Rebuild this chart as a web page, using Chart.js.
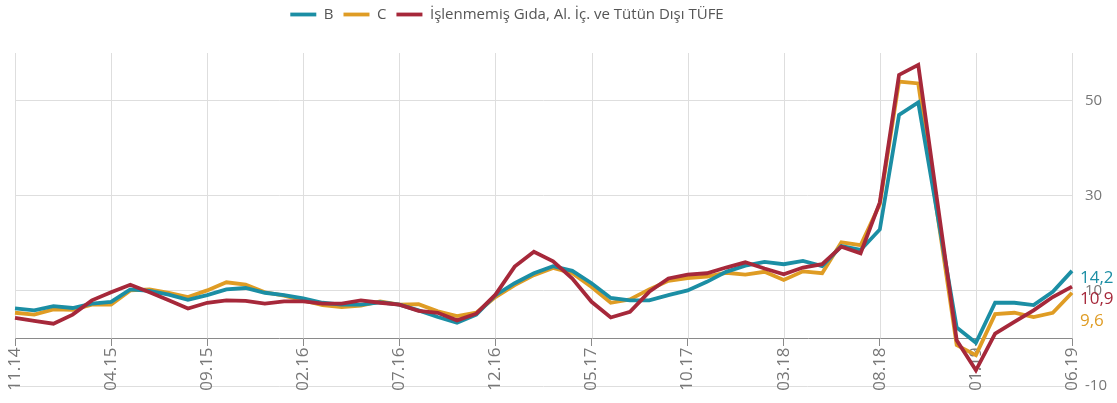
<!DOCTYPE html>
<html>
<head>
<meta charset="utf-8">
<script src="https://cdn.jsdelivr.net/npm/chart.js@4/dist/chart.umd.min.js"></script>
<style>
html, body { margin: 0; padding: 0; background: #fff; }
#wrap { width: 1117px; height: 403px; position: relative; }
</style>
</head>
<body>
<div id="wrap"><canvas id="chart"></canvas></div>
<script>
// aylar 11.14 - 06.19
const months = [
    '11.14', '12.14',
    '01.15', '02.15', '03.15', '04.15', '05.15', '06.15', '07.15', '08.15', '09.15', '10.15', '11.15', '12.15',
    '01.16', '02.16', '03.16', '04.16', '05.16', '06.16', '07.16', '08.16', '09.16', '10.16', '11.16', '12.16',
    '01.17', '02.17', '03.17', '04.17', '05.17', '06.17', '07.17', '08.17', '09.17', '10.17', '11.17', '12.17',
    '01.18', '02.18', '03.18', '04.18', '05.18', '06.18', '07.18', '08.18', '09.18', '10.18', '11.18', '12.18',
    '01.19', '02.19', '03.19', '04.19', '05.19', '06.19'
];

const seriesB = [
    6.3, 5.9, 6.8, 6.4, 7.3, 7.7, 10.3, 10.0, 9.2, 8.1,
    9.1, 10.3, 10.6, 9.6, 9.1, 8.4, 7.5, 7.1, 7.1, 7.6,
    7.1, 5.9, 4.5, 3.3, 5.0, 9.1, 11.6, 13.7, 15.2, 14.2,
    11.6, 8.5, 8.0, 8.0, 9.1, 10.1, 11.9, 14.0, 15.3, 16.1,
    15.6, 16.3, 15.2, 19.4, 18.6, 22.9, 47.0, 49.6, 26.0, 2.3,
    -0.9, 7.5, 7.5, 7.0, 9.8, 14.2
];

const seriesC = [
    5.4, 5.0, 6.1, 6.0, 7.1, 7.1, 10.1, 10.3, 9.6, 8.7,
    10.1, 11.8, 11.3, 9.7, 9.0, 8.0, 7.0, 6.6, 6.9, 7.8,
    7.1, 7.2, 5.7, 4.7, 5.4, 8.7, 11.2, 13.3, 14.8, 13.7,
    10.8, 7.5, 8.2, 10.3, 12.1, 12.7, 13.0, 13.8, 13.4, 14.0,
    12.3, 14.1, 13.7, 20.2, 19.6, 28.2, 54.0, 53.6, 26.0, -1.4,
    -3.5, 5.1, 5.4, 4.5, 5.4, 9.6
];

const seriesTufe = [
    4.3, 3.7, 3.1, 5.0, 8.0, 9.7, 11.3, 9.7, 8.0, 6.3,
    7.5, 8.0, 7.9, 7.3, 7.8, 7.8, 7.3, 7.3, 8.0, 7.5,
    7.1, 5.8, 5.4, 3.8, 5.2, 9.2, 15.1, 18.2, 16.2, 12.6,
    7.7, 4.4, 5.6, 9.8, 12.6, 13.4, 13.7, 14.9, 16.0, 14.7,
    13.5, 14.9, 15.6, 19.3, 17.9, 28.6, 55.4, 57.5, 28.5, -0.4,
    -6.7, 1.0, 3.5, 5.9, 8.7, 10.9
];

const seriesNames = ['B', 'C', 'İşlenmemiş Gıda, Al. İç. ve Tütün Dışı TÜFE'];
const colors = ['#1b8ea4', '#df9c24', '#a6283a'];
const yTicks = [-10, 10, 30, 50];

const fontFamily = '"Open Sans", "DejaVu Sans", sans-serif';

// dikey grid sadece 0 cizgisine kadar
const xGridPlugin = {
    id: 'xGrid',
    beforeDatasetsDraw(chart) {
        const { ctx, chartArea, scales } = chart;
        const y0 = scales.y.getPixelForValue(0);
        ctx.save();
        ctx.strokeStyle = '#dedede';
        ctx.lineWidth = 1;
        months.forEach((m, i) => {
            if (i % 5 !== 0) return;
            const x = Math.round(scales.x.getPixelForValue(i)) + 0.5;
            ctx.beginPath();
            ctx.moveTo(x, chartArea.top);
            ctx.lineTo(x, y0);
            ctx.stroke();
        });
        ctx.restore();
    }
};

// son deger etiketleri
const endLabelPlugin = {
    id: 'endLabels',
    afterDatasetsDraw(chart) {
        const { ctx, chartArea } = chart;
        const items = chart.data.datasets.map((ds, i) => {
            const meta = chart.getDatasetMeta(i);
            const pt = meta.data[meta.data.length - 1];
            const val = ds.data[ds.data.length - 1];
            return { y: pt.y + 7, text: val.toFixed(1).replace('.', ','), color: ds.borderColor };
        }).sort((a, b) => a.y - b.y);

        let prev = -1000;
        ctx.save();
        ctx.font = '17px ' + fontFamily;
        ctx.textBaseline = 'middle';
        ctx.textAlign = 'left';
        items.forEach(it => {
            const y = Math.max(it.y, prev + 21.5);
            prev = y;
            ctx.fillStyle = it.color;
            ctx.fillText(it.text, chartArea.right + 8, y);
        });
        ctx.restore();
    }
};

// legend biraz sola ve yukari
const legendShiftPlugin = {
    id: 'legendShift',
    afterLayout(chart) {
        const lg = chart.legend;
        if (!lg) return;
        lg.left -= 59;
        lg.right -= 59;
        lg.top -= 21;
        lg.bottom -= 21;
    }
};

new Chart(document.getElementById('chart'), {
    type: 'line',
    data: {
        labels: months,
        datasets: [
            { label: seriesNames[0], data: seriesB, borderColor: colors[0], backgroundColor: colors[0], borderWidth: 3.8, order: 1 },
            { label: seriesNames[1], data: seriesC, borderColor: colors[1], backgroundColor: colors[1], borderWidth: 3.8, order: 2 },
            { label: seriesNames[2], data: seriesTufe, borderColor: colors[2], backgroundColor: colors[2], borderWidth: 3.8, order: 0 }
        ]
    },
    options: {
        responsive: true,
        maintainAspectRatio: false,
        animation: false,
        layout: { padding: { left: 15, right: 0, top: 18, bottom: 17 } },
        elements: {
            line: { tension: 0 },
            point: { radius: 0, hoverRadius: 0 }
        },
        plugins: {
            legend: {
                position: 'top',
                labels: {
                    usePointStyle: true,
                    pointStyle: 'line',
                    pointStyleWidth: 26,
                    boxHeight: 15,
                    padding: 10,
                    color: '#555',
                    font: { family: fontFamily, size: 15 },
                    sort: (a, b) => a.datasetIndex - b.datasetIndex
                }
            },
            tooltip: { enabled: false }
        },
        scales: {
            x: {
                position: { y: 0 },
                afterFit: scale => { scale.paddingLeft = 0; scale.paddingRight = 0; scale.paddingTop = 0; scale.paddingBottom = 0; },
                grid: {
                    drawOnChartArea: false,
                    tickLength: 7,
                    tickColor: ctx => (ctx.index % 5 === 0 ? '#8a8a8a' : 'rgba(0,0,0,0)')
                },
                border: { color: '#8a8a8a', width: 1 },
                ticks: {
                    autoSkip: false,
                    minRotation: 90,
                    maxRotation: 90,
                    padding: 2,
                    color: '#777',
                    font: { family: fontFamily, size: 17 },
                    callback: (v, i) => (i % 5 === 0 ? months[i] : '')
                }
            },
            y: {
                position: 'right',
                min: -10,
                max: 60,
                afterBuildTicks: scale => { scale.ticks = yTicks.map(v => ({ value: v })); },
                afterFit: scale => { scale.width = 45; scale.paddingTop = 0; scale.paddingBottom = 0; },
                grid: { color: '#dedede', drawTicks: false },
                border: { display: false },
                ticks: {
                    padding: 13,
                    color: '#777',
                    font: { family: fontFamily, size: 15 }
                }
            }
        }
    },
    plugins: [xGridPlugin, endLabelPlugin, legendShiftPlugin]
});
</script>
</body>
</html>
